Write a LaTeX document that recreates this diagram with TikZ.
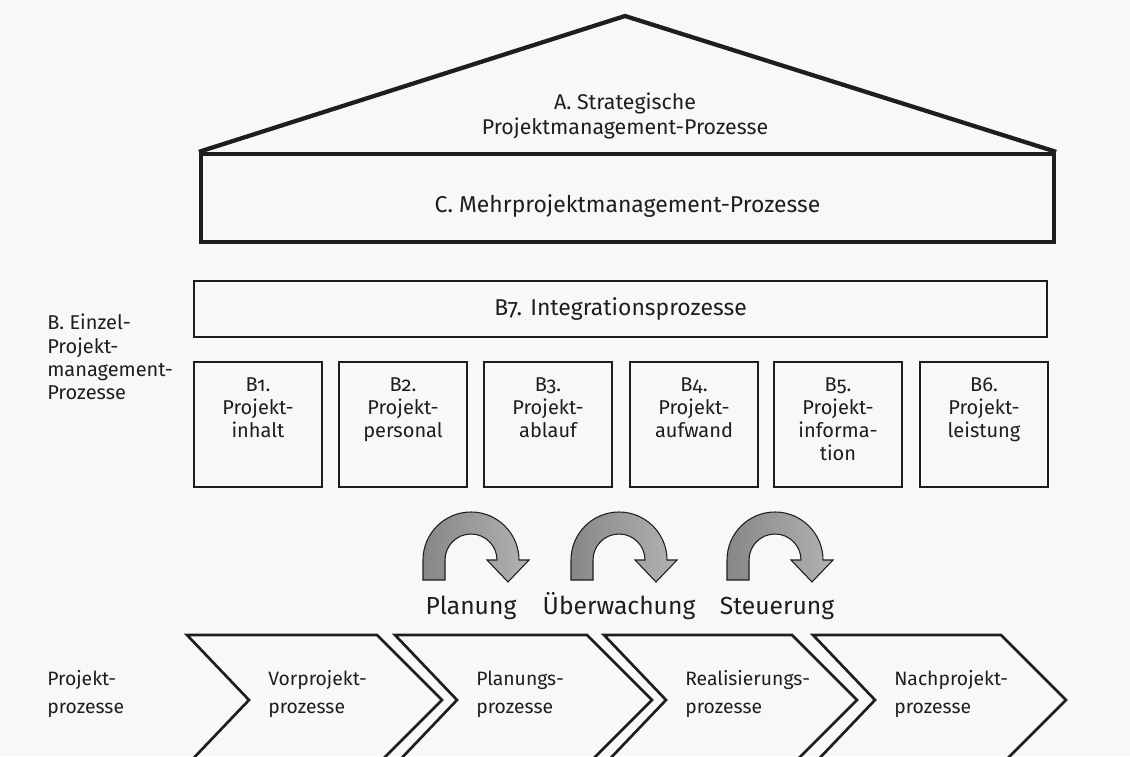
\documentclass[tikz,border=0pt]{standalone}
\usepackage{fontspec}
\setmainfont{Fira Sans}[Numbers=OldStyle]
\definecolor{ink}{RGB}{30,30,30}
\definecolor{paper}{RGB}{248,248,248}
\definecolor{arrowdark}{RGB}{135,135,135}
\definecolor{arrowlight}{RGB}{178,178,178}
\begin{document}
\begin{tikzpicture}[x=0.75pt,y=-0.75pt,
  heavy/.style={draw=ink,line width=3.2pt,line join=miter},
  bbox/.style={draw=ink,line width=2pt,minimum width=96pt,minimum height=93.75pt,inner sep=0pt},
  chev/.style={draw=ink,line width=2pt,line join=miter},
  txt/.style={text=ink,inner sep=0pt,align=center,font=\fontsize{15}{17.4}\selectfont},
  head/.style={txt,font=\fontsize{16}{19.2}\selectfont},
  bighead/.style={txt,font=\fontsize{17.2}{20}\selectfont},
  ltxt/.style={txt,align=left},
  ptxt/.style={ltxt,font=\fontsize{14.5}{21}\selectfont},
  big/.style={text=ink,inner sep=0pt,font=\fontsize{18.5}{22}\selectfont},
  turn/.style={draw=ink,line width=0.8pt,left color=arrowdark,right color=arrowlight,shading angle=90}]

% page
\fill[paper] (0,0) rectangle (1130,756);
\useasboundingbox (0,0) rectangle (1130,756);
\clip (0,0) rectangle (1130,756);

% roof and multi-project box
\coordinate (apex) at (625,16);
\node[heavy,minimum width=639.75pt,minimum height=66pt,inner sep=0pt] (cbox) at (627.5,198) {};
\draw[heavy] (cbox.north west) -- (apex) -- (cbox.north east);
\node[head] (atext) at (625,116) {A. Strategische\\Projektmanagement-Prozesse};
\node[bighead] (ctext) at (627.5,206) {C. Mehrprojektmanagement-Prozesse};

% integration box
\node[draw=ink,line width=2pt,minimum width=639.75pt,minimum height=42pt,inner sep=0pt] (b7) at (620.5,309) {};
\node[bighead] (b7text) at (b7.center) {B7. Integrationsprozesse};

% left labels
\node[ltxt,anchor=west] (blabel) at (47,357) {B. Einzel-\\Projekt-\\management-\\Prozesse};

% single project process boxes
\foreach \cx/\n/\t in {258/b1/{B1.\\Projekt-\\inhalt},
                       403/b2/{B2.\\Projekt-\\personal},
                       548/b3/{B3.\\Projekt-\\ablauf},
                       694/b4/{B4.\\Projekt-\\aufwand},
                       838/b5/{B5.\\Projekt-\\informa-\\tion},
                       984/b6/{B6.\\Projekt-\\leistung}}{
  \node[bbox] (\n) at (\cx,424.5) {};
  \node[txt,anchor=north] (\n text) at ([yshift=-12.5pt]\n.north) {\t};
}

% control cycle arrows
\foreach \x/\n in {423/p,571/u,727/s}{
  \shadedraw[turn] (\x,580) -- (\x,560) arc[start angle=180,end angle=360,radius=48]
    -- ++(10,0) -- (\x+85,582) -- (\x+64,560) -- (\x+74,560)
    arc[start angle=360,end angle=180,radius=26] -- (\x+22,580) -- cycle;
  \coordinate (turn\n) at (\x+48,560);
}
\node[big,anchor=base] (plan) at (471,614) {Planung};
\node[big,anchor=base] (ueber) at (619,614) {Überwachung};
\node[big,anchor=base] (steuer) at (777,614) {Steuerung};

% project phases
\node[ptxt,anchor=west] (plabel) at (47,694) {Projekt-\\prozesse};
\foreach \L/\R/\n/\t in {187/377/vor/{Vorprojekt-\\prozesse},
                         395/587/plan/{Planungs-\\prozesse},
                         604/792/real/{Realisierungs-\\prozesse},
                         813/1001/nach/{Nachprojekt-\\prozesse}}{
  \draw[chev] (\L,635) -- (\R,635) -- (\R+65,700) -- (\R,765) -- (\L,765) -- (\L+62,700) -- cycle;
  \node[ptxt,anchor=west] (\n text) at (\L+81,694) {\t};
}
\end{tikzpicture}
\end{document}
